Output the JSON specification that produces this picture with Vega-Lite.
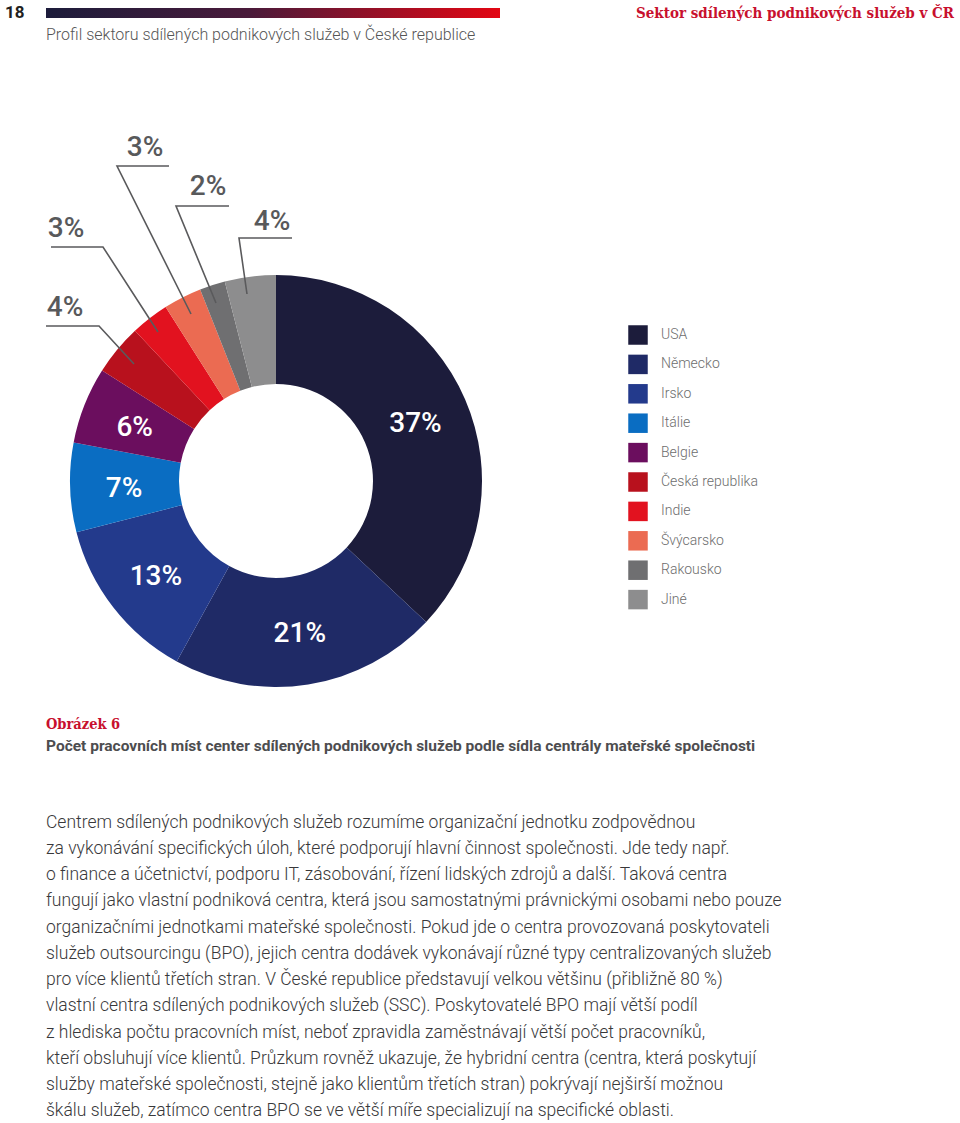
{
  "$schema": "https://vega.github.io/schema/vega-lite/v6.json",
  "width": 960,
  "height": 1123,
  "padding": 0,
  "autosize": {"type": "none"},
  "background": "white",
  "config": {"view": {"stroke": null}, "font": "Roboto"},
  "datasets": {
    "slices": [
      {"country": "USA", "value": 37, "order": 1, "label": "37%"},
      {"country": "Německo", "value": 21, "order": 2, "label": "21%"},
      {"country": "Irsko", "value": 13, "order": 3, "label": "13%"},
      {"country": "Itálie", "value": 7, "order": 4, "label": "7%"},
      {"country": "Belgie", "value": 6, "order": 5, "label": "6%"},
      {"country": "Česká republika", "value": 4, "order": 6, "label": "4%"},
      {"country": "Indie", "value": 3, "order": 7, "label": "3%"},
      {"country": "Švýcarsko", "value": 3, "order": 8, "label": "3%"},
      {"country": "Rakousko", "value": 2, "order": 9, "label": "2%"},
      {"country": "Jiné", "value": 4, "order": 10, "label": "4%"}
    ],
    "callouts": [
      {"country": "Švýcarsko", "label": "3%", "x": 145, "y": 148},
      {"country": "Rakousko", "label": "2%", "x": 208, "y": 187},
      {"country": "Jiné", "label": "4%", "x": 272, "y": 222},
      {"country": "Indie", "label": "3%", "x": 66, "y": 229},
      {"country": "Česká republika", "label": "4%", "x": 65, "y": 308}
    ],
    "leaders": [
      {"g": "Švýcarsko", "o": 1, "x": 169, "y": 166},
      {"g": "Švýcarsko", "o": 2, "x": 117, "y": 166},
      {"g": "Švýcarsko", "o": 3, "x": 191, "y": 314},
      {"g": "Rakousko", "o": 1, "x": 229, "y": 206},
      {"g": "Rakousko", "o": 2, "x": 176, "y": 206},
      {"g": "Rakousko", "o": 3, "x": 216, "y": 303},
      {"g": "Jiné", "o": 1, "x": 292, "y": 238},
      {"g": "Jiné", "o": 2, "x": 239, "y": 238},
      {"g": "Jiné", "o": 3, "x": 247, "y": 294},
      {"g": "Indie", "o": 1, "x": 51, "y": 247},
      {"g": "Indie", "o": 2, "x": 103, "y": 247},
      {"g": "Indie", "o": 3, "x": 158, "y": 332},
      {"g": "Česká republika", "o": 1, "x": 46, "y": 326},
      {"g": "Česká republika", "o": 2, "x": 99, "y": 326},
      {"g": "Česká republika", "o": 3, "x": 134, "y": 364}
    ],
    "bar": [{"x": 46, "x2": 500, "y": 8, "y2": 18}],
    "texts": [
      {"role": "page", "t": "18", "x": 5, "y": 13},
      {"role": "section", "t": "Sektor sdílených podnikových služeb v ČR", "x": 954, "y": 13},
      {"role": "subtitle", "t": "Profil sektoru sdílených podnikových služeb v České republice", "x": 46, "y": 35},
      {"role": "figno", "t": "Obrázek 6", "x": 46, "y": 725},
      {"role": "caption", "t": "Počet pracovních míst center sdílených podnikových služeb podle sídla centrály mateřské společnosti", "x": 46, "y": 746},
      {"role": "body", "t": "Centrem sdílených podnikových služeb rozumíme organizační jednotku zodpovědnou", "x": 46, "y": 823},
      {"role": "body", "t": "za vykonávání specifických úloh, které podporují hlavní činnost společnosti. Jde tedy např.", "x": 46, "y": 849},
      {"role": "body", "t": "o finance a účetnictví, podporu IT, zásobování, řízení lidských zdrojů a další. Taková centra", "x": 46, "y": 875},
      {"role": "body", "t": "fungují jako vlastní podniková centra, která jsou samostatnými právnickými osobami nebo pouze", "x": 46, "y": 901},
      {"role": "body", "t": "organizačními jednotkami mateřské společnosti. Pokud jde o centra provozovaná poskytovateli", "x": 46, "y": 928},
      {"role": "body", "t": "služeb outsourcingu (BPO), jejich centra dodávek vykonávají různé typy centralizovaných služeb", "x": 46, "y": 954},
      {"role": "body", "t": "pro více klientů třetích stran. V České republice představují velkou většinu (přibližně 80 %)", "x": 46, "y": 980},
      {"role": "body", "t": "vlastní centra sdílených podnikových služeb (SSC). Poskytovatelé BPO mají větší podíl", "x": 46, "y": 1006},
      {"role": "body", "t": "z hlediska počtu pracovních míst, neboť zpravidla zaměstnávají větší počet pracovníků,", "x": 46, "y": 1033},
      {"role": "body", "t": "kteří obsluhují více klientů. Průzkum rovněž ukazuje, že hybridní centra (centra, která poskytují", "x": 46, "y": 1059},
      {"role": "body", "t": "služby mateřské společnosti, stejně jako klientům třetích stran) pokrývají nejširší možnou", "x": 46, "y": 1085},
      {"role": "body", "t": "škálu služeb, zatímco centra BPO se ve větší míře specializují na specifické oblasti.", "x": 46, "y": 1111}
    ]
  },
  "layer": [
    {
      "data": {"name": "bar"},
      "mark": {
        "type": "rect",
        "color": {
          "gradient": "linear", "x1": 0, "x2": 1, "y1": 0, "y2": 0,
          "stops": [
            {"offset": 0, "color": "#1c1c3b"},
            {"offset": 0.45, "color": "#4a1a3a"},
            {"offset": 1, "color": "#e30613"}
          ]
        }
      },
      "encoding": {
        "x": {"field": "x", "type": "quantitative", "axis": null, "scale": {"domain": [0, 960], "nice": false, "zero": false}},
        "x2": {"field": "x2"},
        "y": {"field": "y", "type": "quantitative", "axis": null, "scale": {"domain": [0, 1123], "nice": false, "zero": false, "reverse": true}},
        "y2": {"field": "y2"}
      }
    },
    {
      "data": {"name": "slices"},
      "mark": {"type": "arc", "outerRadius": 206, "innerRadius": 97},
      "encoding": {
        "x": {"datum": 276, "type": "quantitative", "axis": null, "scale": {"domain": [0, 960], "nice": false, "zero": false}},
        "y": {"datum": 481, "type": "quantitative", "axis": null, "scale": {"domain": [0, 1123], "nice": false, "zero": false, "reverse": true}},
        "theta": {"field": "value", "type": "quantitative", "stack": true},
        "order": {"field": "order", "type": "quantitative"},
        "color": {
          "field": "country", "type": "nominal",
          "scale": {
            "domain": ["USA", "Německo", "Irsko", "Itálie", "Belgie", "Česká republika", "Indie", "Švýcarsko", "Rakousko", "Jiné"],
            "range": ["#1c1c3b", "#1f2a66", "#233a8c", "#0a6dc2", "#6b0e5e", "#b8111d", "#e2121f", "#eb6b52", "#6f6f71", "#8d8d8e"]
          },
          "sort": null,
          "legend": {
            "title": null, "orient": "none", "legendX": 628, "legendY": 325,
            "symbolType": "square", "symbolSize": 380, "symbolStrokeWidth": 0, "symbolOpacity": 1,
            "labelFont": "Roboto", "labelFontSize": 14, "labelFontWeight": 300, "labelColor": "#6d6d6d",
            "labelOffset": 13, "rowPadding": 9.4
          }
        }
      }
    },
    {
      "data": {"name": "slices"},
      "mark": {"type": "text", "radius": 152, "fontSize": 28, "fontWeight": 500, "color": "white", "font": "Roboto", "dy": 3},
      "encoding": {
        "x": {"datum": 276, "type": "quantitative", "axis": null, "scale": {"domain": [0, 960], "nice": false, "zero": false}},
        "y": {"datum": 481, "type": "quantitative", "axis": null, "scale": {"domain": [0, 1123], "nice": false, "zero": false, "reverse": true}},
        "theta": {"field": "value", "type": "quantitative", "stack": true},
        "order": {"field": "order", "type": "quantitative"},
        "detail": {"field": "country", "type": "nominal"},
        "text": {"condition": {"test": "datum.value >= 5", "field": "label"}, "value": ""}
      }
    },
    {
      "data": {"name": "leaders"},
      "mark": {"type": "line", "color": "#5a5a5c", "strokeWidth": 1.6},
      "encoding": {
        "x": {"field": "x", "type": "quantitative", "axis": null, "scale": {"domain": [0, 960], "nice": false, "zero": false}},
        "y": {"field": "y", "type": "quantitative", "axis": null, "scale": {"domain": [0, 1123], "nice": false, "zero": false, "reverse": true}},
        "detail": {"field": "g", "type": "nominal"},
        "order": {"field": "o", "type": "quantitative"}
      }
    },
    {
      "data": {"name": "callouts"},
      "mark": {"type": "text", "fontSize": 28, "fontWeight": 500, "color": "#58595b", "font": "Roboto", "align": "center", "baseline": "middle"},
      "encoding": {
        "x": {"field": "x", "type": "quantitative", "axis": null, "scale": {"domain": [0, 960], "nice": false, "zero": false}},
        "y": {"field": "y", "type": "quantitative", "axis": null, "scale": {"domain": [0, 1123], "nice": false, "zero": false, "reverse": true}},
        "text": {"field": "label"}
      }
    },
    {
      "data": {"name": "texts"},
      "transform": [{"filter": "datum.role === 'page'"}],
      "mark": {"type": "text", "fontSize": 17, "fontWeight": "bold", "color": "#231f20", "font": "Roboto", "align": "left", "baseline": "middle"},
      "encoding": {
        "x": {"field": "x", "type": "quantitative", "axis": null, "scale": {"domain": [0, 960], "nice": false, "zero": false}},
        "y": {"field": "y", "type": "quantitative", "axis": null, "scale": {"domain": [0, 1123], "nice": false, "zero": false, "reverse": true}},
        "text": {"field": "t"}
      }
    },
    {
      "data": {"name": "texts"},
      "transform": [{"filter": "datum.role === 'section'"}],
      "mark": {"type": "text", "fontSize": 15, "fontWeight": "bold", "color": "#c8102e", "font": "DejaVu Serif Condensed, DejaVu Serif", "align": "right", "baseline": "middle"},
      "encoding": {
        "x": {"field": "x", "type": "quantitative", "axis": null, "scale": {"domain": [0, 960], "nice": false, "zero": false}},
        "y": {"field": "y", "type": "quantitative", "axis": null, "scale": {"domain": [0, 1123], "nice": false, "zero": false, "reverse": true}},
        "text": {"field": "t"}
      }
    },
    {
      "data": {"name": "texts"},
      "transform": [{"filter": "datum.role === 'subtitle'"}],
      "mark": {"type": "text", "fontSize": 16, "fontWeight": 300, "color": "#555555", "font": "Roboto", "align": "left", "baseline": "middle"},
      "encoding": {
        "x": {"field": "x", "type": "quantitative", "axis": null, "scale": {"domain": [0, 960], "nice": false, "zero": false}},
        "y": {"field": "y", "type": "quantitative", "axis": null, "scale": {"domain": [0, 1123], "nice": false, "zero": false, "reverse": true}},
        "text": {"field": "t"}
      }
    },
    {
      "data": {"name": "texts"},
      "transform": [{"filter": "datum.role === 'figno'"}],
      "mark": {"type": "text", "fontSize": 14.5, "fontWeight": "bold", "color": "#c8102e", "font": "DejaVu Serif Condensed, DejaVu Serif", "align": "left", "baseline": "middle"},
      "encoding": {
        "x": {"field": "x", "type": "quantitative", "axis": null, "scale": {"domain": [0, 960], "nice": false, "zero": false}},
        "y": {"field": "y", "type": "quantitative", "axis": null, "scale": {"domain": [0, 1123], "nice": false, "zero": false, "reverse": true}},
        "text": {"field": "t"}
      }
    },
    {
      "data": {"name": "texts"},
      "transform": [{"filter": "datum.role === 'caption'"}],
      "mark": {"type": "text", "fontSize": 15.5, "fontWeight": "bold", "color": "#4d4d4f", "font": "Roboto", "align": "left", "baseline": "middle"},
      "encoding": {
        "x": {"field": "x", "type": "quantitative", "axis": null, "scale": {"domain": [0, 960], "nice": false, "zero": false}},
        "y": {"field": "y", "type": "quantitative", "axis": null, "scale": {"domain": [0, 1123], "nice": false, "zero": false, "reverse": true}},
        "text": {"field": "t"}
      }
    },
    {
      "data": {"name": "texts"},
      "transform": [{"filter": "datum.role === 'body'"}],
      "mark": {"type": "text", "fontSize": 17.5, "fontWeight": 300, "color": "#38383a", "font": "Roboto", "align": "left", "baseline": "middle"},
      "encoding": {
        "x": {"field": "x", "type": "quantitative", "axis": null, "scale": {"domain": [0, 960], "nice": false, "zero": false}},
        "y": {"field": "y", "type": "quantitative", "axis": null, "scale": {"domain": [0, 1123], "nice": false, "zero": false, "reverse": true}},
        "text": {"field": "t"}
      }
    }
  ]
}
